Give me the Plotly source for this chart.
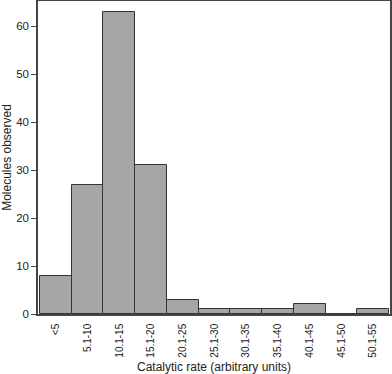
import plotly.graph_objects as go

categories = ["<5", "5.1-10", "10.1-15", "15.1-20", "20.1-25", "25.1-30",
              "30.1-35", "35.1-40", "40.1-45", "45.1-50", "50.1-55"]
counts = [8, 27, 63, 31, 3, 1, 1, 1, 2, 0, 1]
y_ticks = [0, 10, 20, 30, 40, 50, 60]

fig = go.Figure(go.Bar(
    x=categories, y=counts,
    marker=dict(color="#a6a6a6", line=dict(color="#333333", width=1)),
))

font = "Liberation Sans, Arial, sans-serif"
fig.update_layout(
    width=392, height=374,
    margin=dict(l=38, r=2, t=1, b=60),
    plot_bgcolor="white", paper_bgcolor="white",
    bargap=0, showlegend=False,
    font=dict(family=font, size=11, color="#222"),
    xaxis=dict(
        range=[-0.56, 10.53], tickangle=-90, automargin=False,
        showline=True, linecolor="#444", linewidth=1.5, mirror=True,
        ticks="", showgrid=False, zeroline=False,
        tickfont=dict(size=10), ticklabelstandoff=4,
        title=dict(text="Catalytic rate (arbitrary units)", font=dict(size=12), standoff=8),
    ),
    yaxis=dict(
        range=[0, 65.3], tickvals=y_ticks, automargin=False,
        showline=True, linecolor="#444", linewidth=1.5, mirror=True,
        ticks="outside", ticklen=5, tickcolor="#444",
        showgrid=False, zeroline=False,
        tickfont=dict(size=11.5),
        title=dict(text="Molecules observed", font=dict(size=12), standoff=4),
    ),
)

fig.write_html("out.html",
               config={"displayModeBar": False},
               post_script="document.body.style.margin='0';document.body.style.overflow='hidden';")
